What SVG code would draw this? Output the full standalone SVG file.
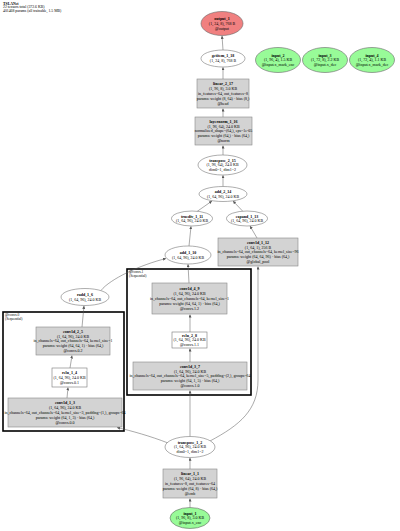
<svg xmlns="http://www.w3.org/2000/svg" width="400" height="531" viewBox="0 0 400 531">
<style>
text{font-family:"Liberation Serif","Times New Roman",serif;font-size:4px;fill:#000;text-anchor:middle}
.b{font-weight:bold}
.h{text-anchor:start;font-size:3.8px}
.cl{text-anchor:start;font-size:3.6px}
.box{fill:#d3d3d3;stroke:#888;stroke-width:0.6}
.ell{fill:#fff;stroke:#777;stroke-width:0.6}
.inp{fill:#98fb98;stroke:#666;stroke-width:0.6}
.out{fill:#f08080;stroke:#666;stroke-width:0.6}
.clu{fill:none;stroke:#000;stroke-width:1.6}
.e{fill:none;stroke:#555;stroke-width:0.5;marker-end:url(#ah)}
</style>
<defs>
<marker id="ah" markerWidth="3" markerHeight="3" refX="3" refY="1.5" orient="auto" markerUnits="userSpaceOnUse">
<path d="M0,0 L3,1.5 L0,3 z" fill="#555"/>
</marker>
</defs>
<rect width="400" height="531" fill="#fff"/>
<g id="header">
<text class="h b" x="3" y="4.5">TSLANet</text>
<text class="h" x="3" y="8.3">22 tensors total (372.6 KB)</text>
<text class="h" x="3" y="12.1">401468 params (all trainable, 1.5 MB)</text>
</g>
<g id="clusters">
<g id="sequential0">
<rect class="clu" x="3" y="312" width="121" height="119"/>
<text class="cl" x="5" y="316">@convs.0</text>
<text class="cl" x="5" y="320">(Sequential)</text>
</g>
<g id="sequential1">
<rect class="clu" x="127" y="269" width="124" height="126"/>
<text class="cl" x="129" y="273">@convs.1</text>
<text class="cl" x="129" y="277">(Sequential)</text>
</g>
</g>
<g id="connectors">
<path class="e" d="M190,507.5 L190,498.5"/>
<path class="e" d="M190,469 L190,457.8"/>
<path class="e" d="M168,443 C150,436 132,431 117,427.5"/>
<path class="e" d="M190,436.5 L190,390.5"/>
<path class="e" d="M210,441 C240,425 258,410 258,380 L258,266.5"/>
<path class="e" d="M67,398 L68,387.5"/>
<path class="e" d="M70,368 L72,355.5"/>
<path class="e" d="M82,327 L84,305.8"/>
<path class="e" d="M101,290.5 C110,279 140,265 166,258.5"/>
<path class="e" d="M190,362 L190,348.5"/>
<path class="e" d="M190,332 L190,314.5"/>
<path class="e" d="M189,283 L188,264.3"/>
<path class="e" d="M189,246 L191,226.3"/>
<path class="e" d="M257,238 L250,226"/>
<path class="e" d="M197,211.5 L212,201"/>
<path class="e" d="M243,211.5 L233,201"/>
<path class="e" d="M223,186.5 L223,175.3"/>
<path class="e" d="M223,155 L223,145.5"/>
<path class="e" d="M223,117 L223,108.5"/>
<path class="e" d="M223,79 L223,67.3"/>
<path class="e" d="M223,50 L222,35.8"/>
</g>
<g id="output_1">
<ellipse class="out" cx="222" cy="23.5" rx="21" ry="12"/>
<text class="b" x="222" y="20">output_1</text>
<text x="222" y="24.9">(1, 24, 8), 768 B</text>
<text x="222" y="29.8">@output</text>
</g>
<g id="getitem_1_18">
<ellipse class="ell" cx="223" cy="58.5" rx="22" ry="8.5"/>
<text class="b" x="223" y="57.4">getitem_1_18</text>
<text x="223" y="62.3">(1, 24, 8), 768 B</text>
</g>
<g id="input_2">
<ellipse class="inp" cx="278" cy="60" rx="22.5" ry="12.5"/>
<text class="b" x="278" y="56.5">input_2</text>
<text x="278" y="61.4">(1, 96, 4), 1.5 KB</text>
<text x="278" y="66.3">@input.x_mark_enc</text>
</g>
<g id="input_3">
<ellipse class="inp" cx="325" cy="60" rx="22.5" ry="12.5"/>
<text class="b" x="325" y="56.5">input_3</text>
<text x="325" y="61.4">(1, 72, 8), 2.2 KB</text>
<text x="325" y="66.3">@input.x_dec</text>
</g>
<g id="input_4">
<ellipse class="inp" cx="372" cy="60" rx="22.5" ry="12.5"/>
<text class="b" x="372" y="56.5">input_4</text>
<text x="372" y="61.4">(1, 72, 4), 1.1 KB</text>
<text x="372" y="66.3">@input.x_mark_dec</text>
</g>
<g id="linear_2_17">
<rect class="box" x="197" y="79" width="52" height="29"/>
<text class="b" x="223" y="85.1">linear_2_17</text>
<text x="223" y="90">(1, 96, 8), 3.0 KB</text>
<text x="223" y="94.9">in_features=64, out_features=8</text>
<text x="223" y="99.8">params: weight (8, 64) · bias (8,)</text>
<text x="223" y="104.7">@head</text>
</g>
<g id="layernorm_1_16">
<rect class="box" x="195" y="117" width="57" height="28"/>
<text class="b" x="223.5" y="122.6">layernorm_1_16</text>
<text x="223.5" y="127.5">(1, 96, 64), 24.0 KB</text>
<text x="223.5" y="132.4">normalized_shape=(64,), eps=1e-05</text>
<text x="223.5" y="137.3">params: weight (64,) · bias (64,)</text>
<text x="223.5" y="142.2">@norm</text>
</g>
<g id="transpose_2_15">
<ellipse class="ell" cx="222.5" cy="165" rx="24.5" ry="10"/>
<text class="b" x="222.5" y="161.5">transpose_2_15</text>
<text x="222.5" y="166.4">(1, 96, 64), 24.0 KB</text>
<text x="222.5" y="171.3">dim0=1, dim1=2</text>
</g>
<g id="add_2_14">
<ellipse class="ell" cx="223" cy="194" rx="24" ry="7.5"/>
<text class="b" x="223" y="193">add_2_14</text>
<text x="223" y="197.9">(1, 64, 96), 24.0 KB</text>
</g>
<g id="truediv_1_11">
<ellipse class="ell" cx="192" cy="218.5" rx="20.5" ry="7.5"/>
<text class="b" x="192" y="217.5">truediv_1_11</text>
<text x="192" y="222.4">(1, 64, 96), 24.0 KB</text>
</g>
<g id="expand_1_13">
<ellipse class="ell" cx="247" cy="218.5" rx="20.5" ry="7.5"/>
<text class="b" x="247" y="217.5">expand_1_13</text>
<text x="247" y="222.4">(1, 64, 96), 24.0 KB</text>
</g>
<g id="conv1d_1_12">
<rect class="box" x="218" y="238" width="80" height="28"/>
<text class="b" x="258" y="243.6">conv1d_1_12</text>
<text x="258" y="248.5">(1, 64, 1), 256 B</text>
<text x="258" y="253.4">in_channels=64, out_channels=64, kernel_size=96</text>
<text x="258" y="258.3">params: weight (64, 64, 96) · bias (64,)</text>
<text x="258" y="263.2">@global_pool</text>
</g>
<g id="add_1_10">
<ellipse class="ell" cx="188" cy="255" rx="23" ry="9"/>
<text class="b" x="188" y="254">add_1_10</text>
<text x="188" y="258.9">(1, 64, 96), 24.0 KB</text>
</g>
<g id="conv1d_4_9">
<rect class="box" x="152" y="283" width="75" height="31"/>
<text class="b" x="189.5" y="290.1">conv1d_4_9</text>
<text x="189.5" y="295">(1, 64, 96), 24.0 KB</text>
<text x="189.5" y="299.9">in_channels=64, out_channels=64, kernel_size=1</text>
<text x="189.5" y="304.8">params: weight (64, 64, 1) · bias (64,)</text>
<text x="189.5" y="309.7">@convs.1.2</text>
</g>
<g id="relu_2_8">
<rect class="ell" x="172" y="332" width="35" height="16"/>
<text class="b" x="189.5" y="336.5">relu_2_8</text>
<text x="189.5" y="341.4">(1, 64, 96), 24.0 KB</text>
<text x="189.5" y="346.3">@convs.1.1</text>
</g>
<g id="conv1d_3_7">
<rect class="box" x="133" y="362" width="114" height="28"/>
<text class="b" x="190" y="367.6">conv1d_3_7</text>
<text x="190" y="372.5">(1, 64, 96), 24.0 KB</text>
<text x="190" y="377.4">in_channels=64, out_channels=64, kernel_size=5, padding=(2,), groups=64</text>
<text x="190" y="382.3">params: weight (64, 1, 5) · bias (64,)</text>
<text x="190" y="387.2">@convs.1.0</text>
</g>
<g id="radd_1_6">
<ellipse class="ell" cx="85" cy="297" rx="24" ry="8.5"/>
<text class="b" x="85" y="296">radd_1_6</text>
<text x="85" y="300.9">(1, 64, 96), 24.0 KB</text>
</g>
<g id="conv1d_2_5">
<rect class="box" x="36" y="327" width="74" height="28"/>
<text class="b" x="73" y="332.6">conv1d_2_5</text>
<text x="73" y="337.5">(1, 64, 96), 24.0 KB</text>
<text x="73" y="342.4">in_channels=64, out_channels=64, kernel_size=1</text>
<text x="73" y="347.3">params: weight (64, 64, 1) · bias (64,)</text>
<text x="73" y="352.2">@convs.0.2</text>
</g>
<g id="relu_1_4">
<rect class="ell" x="52" y="368" width="35" height="19"/>
<text class="b" x="69.5" y="374">relu_1_4</text>
<text x="69.5" y="378.9">(1, 64, 96), 24.0 KB</text>
<text x="69.5" y="383.8">@convs.0.1</text>
</g>
<g id="conv1d_1_3">
<rect class="box" x="8" y="398" width="114" height="29"/>
<text class="b" x="65" y="404.1">conv1d_1_3</text>
<text x="65" y="409">(1, 64, 96), 24.0 KB</text>
<text x="65" y="413.9">in_channels=64, out_channels=64, kernel_size=3, padding=(1,), groups=64</text>
<text x="65" y="418.8">params: weight (64, 1, 3) · bias (64,)</text>
<text x="65" y="423.7">@convs.0.0</text>
</g>
<g id="transpose_1_2">
<ellipse class="ell" cx="190" cy="447" rx="25" ry="10.5"/>
<text class="b" x="190" y="443.5">transpose_1_2</text>
<text x="190" y="448.4">(1, 64, 96), 24.0 KB</text>
<text x="190" y="453.3">dim0=1, dim1=2</text>
</g>
<g id="linear_1_1">
<rect class="box" x="163" y="469" width="54" height="29"/>
<text class="b" x="190" y="475.1">linear_1_1</text>
<text x="190" y="480">(1, 96, 64), 24.0 KB</text>
<text x="190" y="484.9">in_features=8, out_features=64</text>
<text x="190" y="489.8">params: weight (64, 8) · bias (64,)</text>
<text x="190" y="494.7">@emb</text>
</g>
<g id="input_1">
<ellipse class="inp" cx="190" cy="518" rx="20" ry="10.5"/>
<text class="b" x="190" y="514.5">input_1</text>
<text x="190" y="519.4">(1, 96, 8), 3.0 KB</text>
<text x="190" y="524.3">@input.x_enc</text>
</g>
</svg>
